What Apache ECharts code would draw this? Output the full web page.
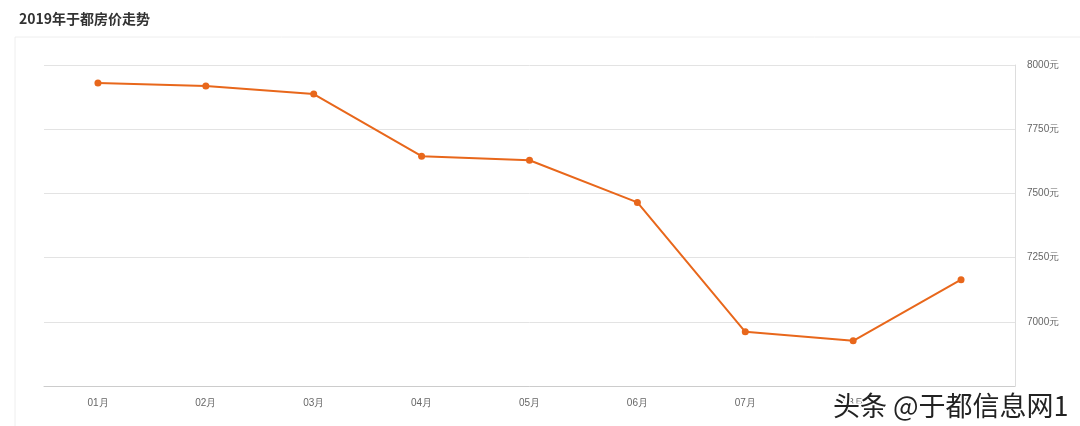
<!DOCTYPE html>
<html>
<head>
<meta charset="utf-8">
<script src="https://cdn.jsdelivr.net/npm/echarts@6/dist/echarts.min.js"></script>
<style>
  html, body { margin: 0; padding: 0; background: #fff; }
  #chart { width: 1080px; height: 426px; }
</style>
</head>
<body>
<div id="chart"></div>
<script>
var months = ["01月", "02月", "03月", "04月", "05月", "06月", "07月", "08月", "09月"];
var prices = [7930, 7918, 7887, 7645, 7629, 7465, 6961, 6926, 7164];
var yTicks = { min: 6750, max: 8000, interval: 250 };

var myChart = echarts.init(document.getElementById("chart"));
myChart.setOption({
  animation: false,
  title: {
    text: "2019年于都房价走势",
    left: 14,
    top: 7,
    textStyle: { fontSize: 14, fontWeight: "bold", color: "#333", fontFamily: "Noto Sans CJK SC" },
  },
  graphic: [
    {
      type: "rect",
      shape: { x: 15, y: 37, width: 1070, height: 400 },
      style: { fill: "none", stroke: "#eeeeee", lineWidth: 1 },
    },
    {
      type: "text",
      right: 10,
      bottom: 5,
      z: 100,
      style: {
        text: "头条 @于都信息网1", fontSize: 27, fill: "#222",
        stroke: "#fff", lineWidth: 3, fontFamily: "Noto Sans CJK SC",
      },
    },
  ],
  grid: { left: 44, right: 65, top: 65, bottom: 40 },
  xAxis: {
    type: "category",
    data: months,
    axisLine: { lineStyle: { color: "#cccccc" } },
    axisTick: { alignWithLabel: true, lineStyle: { color: "#cccccc" } },
    axisLabel: { color: "#666", fontSize: 10, margin: 12 },
  },
  yAxis: {
    type: "value",
    position: "right",
    min: yTicks.min,
    max: yTicks.max,
    interval: yTicks.interval,
    axisLine: { show: true, lineStyle: { color: "#dddddd" } },
    axisTick: { show: false },
    axisLabel: {
      color: "#666",
      fontSize: 10,
      margin: 12,
      formatter: function (v) { return v === yTicks.min ? "" : v + "元"; },
    },
    splitLine: { lineStyle: { color: "#e3e3e3" } },
  },
  series: [
    {
      type: "line",
      data: prices,
      symbol: "circle",
      symbolSize: 7,
      itemStyle: { color: "#e8671b" },
      lineStyle: { color: "#e8671b", width: 2 },
    },
  ],
});
</script>
</body>
</html>
